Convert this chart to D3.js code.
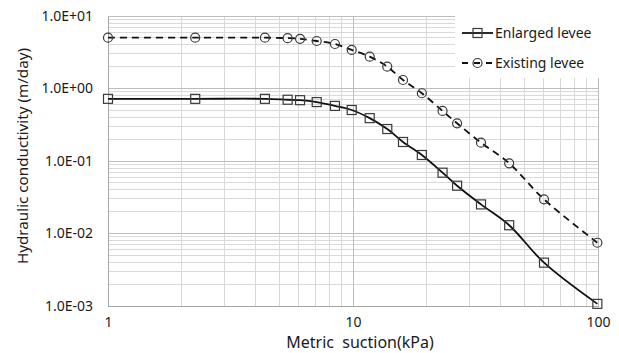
<!DOCTYPE html>
<html>
<head>
<meta charset="utf-8">
<script src="https://cdn.jsdelivr.net/npm/d3@7"></script>
<style>
  html, body { margin: 0; padding: 0; background: #fff; }
  svg text { font-family: "Noto Sans", "Open Sans", sans-serif; fill: #1a1a1a; }
</style>
</head>
<body>
<svg id="chart" width="619" height="353"></svg>
<script>
// Matric suction (kPa) at which conductivity was evaluated
const suction = [1, 2.27, 4.37, 5.41, 6.08, 7.11, 8.44, 9.88, 11.7, 13.8, 16.0, 19.1, 23.2, 26.6, 33.3, 43.4, 60.2, 99.4];
// Hydraulic conductivity (m/day)
const enlargedLevee = [0.72, 0.72, 0.72, 0.70, 0.69, 0.65, 0.575, 0.505, 0.39, 0.276, 0.183, 0.121, 0.069, 0.0456, 0.0252, 0.013, 0.00396, 0.00107];
const existingLevee = [5.02, 5.02, 5.02, 4.95, 4.85, 4.52, 4.11, 3.40, 2.75, 2.0, 1.31, 0.86, 0.49, 0.331, 0.179, 0.093, 0.0296, 0.00746];
const seriesNames = ["Enlarged levee", "Existing levee"];
const xTickValues = [1, 10, 100];
const yTickValues = [1e-3, 1e-2, 1e-1, 1, 10];
const yTickLabels = ["1.0E-03", "1.0E-02", "1.0E-01", "1.0E+00", "1.0E+01"];
const xTitle = "Metric  suction(kPa)";
const yTitle = "Hydraulic conductivity (m/day)";

const svg = d3.select("#chart");
const m = { left: 108, right: 598, top: 16, bottom: 306 };

const x = d3.scaleLog().domain([1, 100]).range([m.left, m.right]);
const y = d3.scaleLog().domain([1e-3, 10]).range([m.bottom, m.top]);

// minor/major grid values
const minorX = [], minorY = [];
for (let d = 1; d < 100; d *= 10) for (let k = 2; k <= 9; k++) minorX.push(d * k);
for (let d = 1e-3; d < 10; d *= 10) for (let k = 2; k <= 9; k++) minorY.push(d * k);

const grid = svg.append("g");
grid.selectAll(".mx").data(minorX).join("line")
  .attr("x1", d => x(d)).attr("x2", d => x(d))
  .attr("y1", m.top).attr("y2", m.bottom)
  .attr("stroke", "#d9d9d9").attr("stroke-width", 1).attr("shape-rendering", "crispEdges");
grid.selectAll(".my").data(minorY).join("line")
  .attr("x1", m.left).attr("x2", m.right)
  .attr("y1", d => y(d)).attr("y2", d => y(d))
  .attr("stroke", "#d9d9d9").attr("stroke-width", 1).attr("shape-rendering", "crispEdges");
grid.selectAll(".Mx").data(xTickValues).join("line")
  .attr("x1", d => x(d)).attr("x2", d => x(d))
  .attr("y1", m.top).attr("y2", m.bottom)
  .attr("stroke", "#bdbdbd").attr("stroke-width", 1).attr("shape-rendering", "crispEdges");
grid.selectAll(".My").data(yTickValues).join("line")
  .attr("x1", m.left).attr("x2", m.right)
  .attr("y1", d => y(d)).attr("y2", d => y(d))
  .attr("stroke", "#bdbdbd").attr("stroke-width", 1).attr("shape-rendering", "crispEdges");

// legend panel covers the grid in the upper-right corner
svg.append("rect").attr("x", 455).attr("y", m.top).attr("width", m.right - 455 + 1).attr("height", 62)
  .attr("fill", "#fff");

// axes
const xAxis = d3.axisBottom(x).tickValues(xTickValues).tickFormat(d3.format("d")).tickSize(0).tickPadding(11);
const yAxis = d3.axisLeft(y).tickValues(yTickValues).tickFormat((d, i) => yTickLabels[i]).tickSize(0).tickPadding(15);
const gx = svg.append("g").attr("transform", `translate(0,${m.bottom})`).call(xAxis);
const gy = svg.append("g").attr("transform", `translate(${m.left},0)`).call(yAxis);
[gx, gy].forEach(g => {
  g.select(".domain").attr("stroke", "#a6a6a6").attr("shape-rendering", "crispEdges");
  g.selectAll("text").attr("font-size", 14).style("fill", "#1a1a1a");
});

// titles
svg.append("text").attr("x", 360).attr("y", 348)
  .attr("text-anchor", "middle").attr("font-size", 16).style("white-space", "pre").text(xTitle);
svg.append("text").attr("transform", `translate(28,156) rotate(-90)`)
  .attr("text-anchor", "middle").attr("font-size", 15.2).text(yTitle);

// series
const series = [
  { name: seriesNames[0], values: enlargedLevee, dash: null, marker: "square" },
  { name: seriesNames[1], values: existingLevee, dash: "7,5", marker: "circle" }
];
const line = d3.line().x(d => x(d[0])).y(d => y(d[1])).curve(d3.curveCatmullRom.alpha(0.5));

function drawMarker(g, kind, cx, cy) {
  if (kind === "square") {
    g.append("rect").attr("x", cx - 4.5).attr("y", cy - 4.5).attr("width", 9).attr("height", 9)
      .attr("fill", "none").attr("stroke", "#3a3a3a").attr("stroke-width", 1.2);
  } else {
    g.append("circle").attr("cx", cx).attr("cy", cy).attr("r", 4.5)
      .attr("fill", "none").attr("stroke", "#3a3a3a").attr("stroke-width", 1.2);
  }
}

series.forEach(s => {
  const pts = suction.map((v, i) => [v, s.values[i]]);
  const g = svg.append("g");
  g.append("path").attr("d", line(pts)).attr("fill", "none")
    .attr("stroke", "#111").attr("stroke-width", 1.8)
    .attr("stroke-dasharray", s.dash);
  pts.forEach(p => drawMarker(g, s.marker, x(p[0]), y(p[1])));
});

// legend
const legend = svg.append("g");
series.forEach((s, i) => {
  const ly = 33 + i * 30;
  legend.append("line").attr("x1", 462).attr("x2", 493).attr("y1", ly).attr("y2", ly)
    .attr("stroke", "#111").attr("stroke-width", 1.8).attr("stroke-dasharray", s.dash ? "6,6" : null);
  drawMarker(legend, s.marker, 477.5, ly);
  legend.append("text").attr("x", 495).attr("y", ly + 5).attr("font-size", 14).text(s.name);
});
</script>
</body>
</html>
